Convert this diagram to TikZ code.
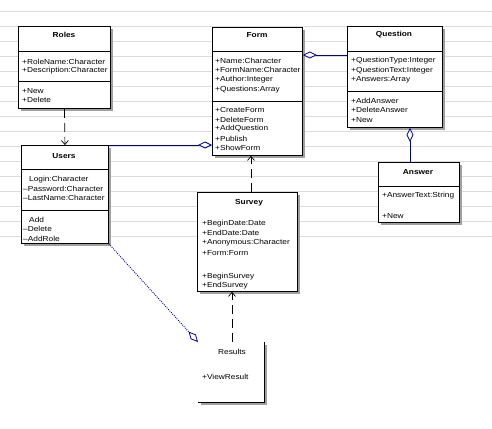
\documentclass[tikz,border=0pt]{standalone}
\usepackage{fontspec}
\setmainfont{Liberation Sans}[FakeStretch=1.14]
\usetikzlibrary{arrows.meta,calc}
\definecolor{navyc}{RGB}{0,0,140}
\definecolor{shadowc}{RGB}{160,160,160}
\definecolor{gridc}{RGB}{220,220,220}
\tikzset{
  box/.style={draw=black, line width=0.9pt, fill=white, anchor=north west, inner sep=0pt},
  txt/.style={anchor=west, inner sep=0pt, font=\fontsize{7.3}{8}\selectfont},
  ttl/.style={inner sep=0pt, font=\fontsize{7.3}{8}\selectfont\bfseries},
  sep/.style={line width=0.9pt},
  depline/.style={line width=0.7pt, dash pattern=on 9pt off 5pt, -{Straight Barb[length=4pt,width=7pt]}},
  aggline/.style={line width=0.8pt, draw=navyc, {Diamond[open,length=14pt,width=7pt]}-},
}
\newcommand\umlbox[5]{%
  \fill[shadowc] (#2+3,#3+3) rectangle (#4+3,#5+3);
  \node[box, minimum width=#4pt-#2pt, minimum height=#5pt-#3pt] (#1) at (#2,#3) {};
}
\begin{document}
\begin{tikzpicture}[x=1pt,y=-1pt]
\useasboundingbox (0,0) rectangle (492,428);
\fill[white] (0,0) rectangle (492,428);
% ruled background
\foreach \yy in {11,26,...,236} { \draw[gridc, line width=0.6pt] (0,\yy) -- (492,\yy); }

% Roles
\umlbox{roles}{18}{26}{110}{108}
\node[ttl] (rolesT) at (64,35) {Roles};
\draw[sep] (18,51) -- (110,51);
\node[txt] (r1) at (22,62) {+RoleName:Character};
\node[txt] (r2) at (22,71) {+Description:Character};
\draw[sep] (18,81) -- (110,81);
\node[txt] (r3) at (22,91) {+New};
\node[txt] (r4) at (22,100) {+Delete};

% Users
\umlbox{users}{21}{145}{108}{243}
\node[ttl] (usersT) at (64,156) {Users};
\draw[sep] (21,169) -- (108,169);
\node[txt] (u1) at (29,180) {Login:Character};
\node[txt] (u2) at (23,189) {–Password:Character};
\node[txt] (u3) at (23,198) {–LastName:Character};
\draw[sep] (21,210) -- (108,210);
\node[txt] (u4) at (29,220) {Add};
\node[txt] (u5) at (23,229) {–Delete};
\node[txt] (u6) at (23,239) {–AddRole};

% Form
\umlbox{form}{212}{27}{302}{155}
\node[ttl] (formT) at (257,35) {Form};
\draw[sep] (212,51) -- (302,51);
\node[txt] (f1) at (215,61) {+Name:Character};
\node[txt] (f2) at (215,70) {+FormName:Character};
\node[txt] (f3) at (215,80) {+Author:Integer};
\node[txt] (f4) at (215,90) {+Questions:Array};
\draw[sep] (212,101) -- (302,101);
\node[txt] (f5) at (215,110) {+CreateForm};
\node[txt] (f6) at (215,120) {+DeleteForm};
\node[txt] (f7) at (215,129) {+AddQuestion};
\node[txt] (f8) at (215,139) {+Publish};
\node[txt] (f9) at (215,148) {+ShowForm};

% Question
\umlbox{question}{347}{26}{442}{127}
\node[ttl] (questionT) at (394,35) {Question};
\draw[sep] (347,51) -- (442,51);
\node[txt] (q1) at (351,61) {+QuestionType:Integer};
\node[txt] (q2) at (351,71) {+QuestionText:Integer};
\node[txt] (q3) at (351,80) {+Answers:Array};
\draw[sep] (347,91) -- (442,91);
\node[txt] (q4) at (351,101) {+AddAnswer};
\node[txt] (q5) at (351,110) {+DeleteAnswer};
\node[txt] (q6) at (351,120) {+New};

% Answer
\umlbox{answer}{378}{162}{459}{222}
\node[ttl] (answerT) at (418,172) {Answer};
\draw[sep] (378,186) -- (459,186);
\node[txt] (a1) at (382,196) {+AnswerText:String};
\node[txt] (a2) at (382,216) {+New};

% Survey
\umlbox{survey}{197}{192}{297}{291}
\node[ttl] (surveyT) at (249,203) {Survey};
\node[txt] (s1) at (202,224) {+BeginDate:Date};
\node[txt] (s2) at (202,233) {+EndDate:Date};
\node[txt] (s3) at (202,243) {+Anonymous:Character};
\node[txt] (s4) at (202,253) {+Form:Form};
\node[txt] (s5) at (202,277) {+BeginSurvey};
\node[txt] (s6) at (202,286) {+EndSurvey};

% Results (only right and bottom edges drawn)
\fill[shadowc] (264,345) rectangle (267,405);
\fill[shadowc] (201,402) rectangle (267,405);
\node[anchor=north west, inner sep=0pt, minimum width=66pt, minimum height=60pt] (results) at (198,342) {};
\draw[sep] (results.north east) -- (results.south east) -- (results.south west);
\node[inner sep=0pt, font=\fontsize{7.3}{8}\selectfont] (resultsT) at (232,352) {Results};
\node[txt] (rs1) at (202,377) {+ViewResult};

% connectors
\draw[depline] (roles.south) -- (users.north);
\draw[aggline] (users.north east -| form.west) -- (users.north east);
\coordinate (qa) at (347,55);
\draw[aggline] (qa -| form.east) -- (qa);
\coordinate (an) at (410,162);
\draw[aggline] (an |- question.south) -- (an);
\coordinate (sv) at (251,192);
\draw[depline] (sv) -- (sv |- form.south);
\coordinate (rv) at (232,342);
\draw[depline] (rv) -- (rv |- survey.south);
\draw[line width=0.9pt, draw=navyc, dash pattern=on 0.9pt off 1.2pt, -{Diamond[open,length=14pt,width=7pt,line width=0.8pt]}] (users.south east) -- (results.north west);
\end{tikzpicture}
\end{document}
